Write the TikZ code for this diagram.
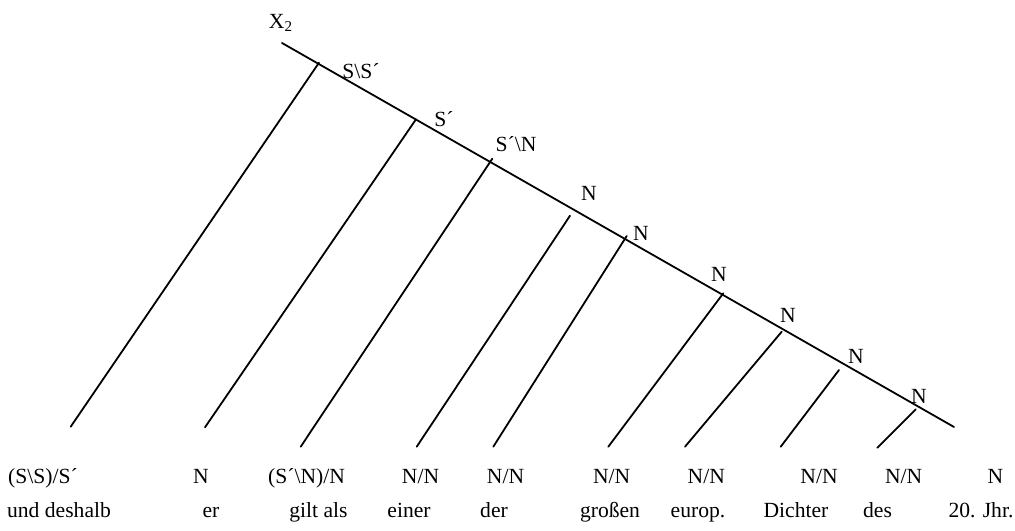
\documentclass[tikz,border=0pt]{standalone}
\usepackage{fontspec}
\setmainfont{Liberation Serif}
\usetikzlibrary{positioning}
\tikzset{
  spine/.style={line width=0.9pt, black, line cap=round},
  branch/.style={line width=0.9pt, black, line cap=round},
  cat/.style={font=\fontsize{10.8}{13}\selectfont, anchor=base, inner sep=0pt},
  word/.style={cat},
  lbl/.style={cat},
}

\begin{document}
\begin{tikzpicture}[x=0.5pt,y=-0.5pt]
    \useasboundingbox (0,0) rectangle (1015,530);
    % spine
    \coordinate (root) at (282,43);
    \coordinate (tail) at (954,427);
    \draw[spine] (root) -- (tail);
    \node[lbl] (lx) at (281,28.5) {X\textsubscript{2}};
    \node[lbl] (l1) at (361,78.3) {S\textbackslash S´};
    \node[lbl] (l2) at (444,126.7) {S´};
    \node[lbl] (l3) at (516,151.7) {S´\textbackslash N};
    \node[lbl] (l4) at (589,200.7) {N};
    \node[lbl] (l5) at (641,240.7) {N};
    \node[lbl] (l6) at (719,281.7) {N};
    \node[lbl] (l7) at (788,322.3) {N};
    \node[lbl] (l8) at (856,363.3) {N};
    \node[lbl] (l9) at (919,403) {N};
    % branch ends
    \coordinate (t1) at (319,62.7);   \coordinate (b1) at (70.7,426.7);
    \coordinate (t2) at (416,119.3);  \coordinate (b2) at (205,427.3);
    \coordinate (t3) at (492.3,158.7);\coordinate (b3) at (300.7,446.7);
    \coordinate (t4) at (570,215.7);  \coordinate (b4) at (416.7,446.7);
    \coordinate (t5) at (626.7,236);  \coordinate (b5) at (493.3,446.7);
    \coordinate (t6) at (723.3,293.3);\coordinate (b6) at (608.3,446.7);
    \coordinate (t7) at (781.7,331.7);\coordinate (b7) at (685,446.7);
    \coordinate (t8) at (839,370);    \coordinate (b8) at (780.7,446.7);
    \coordinate (t9) at (915.7,409.3);\coordinate (b9) at (877.3,447.7);
    \foreach \i in {1,...,9}
      \draw[branch] (b\i) -- (t\i);
    % categories
    \node[cat] (c1) at (43,483) {(S\textbackslash S)/S´};
    \node[cat] (c2) at (201,483) {N};
    \node[cat] (c3) at (306.5,483) {(S´\textbackslash N)/N};
    \node[cat] (c4) at (420.5,483) {N/N};
    \node[cat] (c5) at (505.5,483) {N/N};
    \node[cat] (c6) at (611.7,483) {N/N};
    \node[cat] (c7) at (706.3,483) {N/N};
    \node[cat] (c8) at (819,483) {N/N};
    \node[cat] (c9) at (903.7,483) {N/N};
    \node[cat] (c10) at (995.5,483) {N};
    % words
    \node[word] (w1) at (59,517) {und deshalb};
    \node[word] (w2) at (211,517) {er};
    \node[word] (w3) at (318.5,517) {gilt als};
    \node[word] (w4) at (409,517) {einer};
    \node[word] (w5) at (494,517) {der};
    \node[word] (w6) at (610,517) {großen};
    \node[word] (w7) at (698,517) {europ.};
    \node[word] (w8) at (796,517) {Dichter};
    \node[word] (w9) at (877.5,517) {des};
    \node[word] (w10) at (981,517) {20. Jhr.};
\end{tikzpicture}
\end{document}
